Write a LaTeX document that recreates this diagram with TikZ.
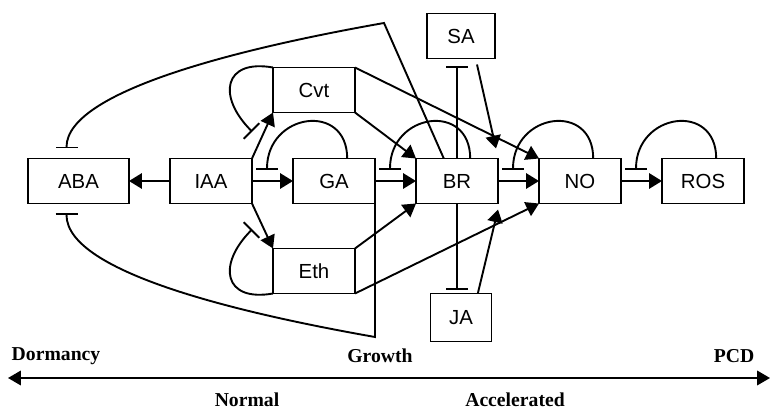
\documentclass[tikz,border=0pt]{standalone}
\usepackage{fontspec}
\setmainfont{Liberation Serif}
\newfontfamily\hormfont{Liberation Sans}
\usetikzlibrary{arrows.meta,positioning,calc}
\tikzset{
    hormone/.style = {
        rectangle, draw, inner sep=0pt, outer sep=0pt,
        minimum width=2.05cm, minimum height=1.125cm,
        font=\hormfont\fontsize{14.5}{17}\selectfont, line width=1.35pt
    },
    promote/.style = {draw, line width=1.35pt, -{Triangle[length=3.2mm,width=3.8mm]}},
    inhibit/.style = {draw, line width=1.35pt, -{Bar[width=5.5mm]}},
    stage/.style   = {inner sep=1pt, font=\bfseries\fontsize{14}{17}\selectfont}
}

\begin{document}
\begin{tikzpicture}
  \useasboundingbox (0,0) rectangle (19.325,10.275);

  % main chain
  \node [hormone, minimum width=2.525cm] (aba) at (1.9625,5.75) {ABA};
  \node [hormone, right=1.025cm of aba] (iaa) {IAA};
  \node [hormone, right=1.025cm of iaa] (ga)  {GA};
  \node [hormone, right=1.025cm of ga]  (br)  {BR};
  \node [hormone, right=1.025cm of br]  (no)  {NO};
  \node [hormone, right=1.025cm of no]  (ros) {ROS};

  % side branches
  \node [hormone, above right=1.15cm and 0.525cm of iaa.north east] (cvt) {Cvt};
  \node [hormone, below right=1.125cm and 0.525cm of iaa.south east] (eth) {Eth};
  \node [hormone, minimum width=1.7cm, above=2.5cm of br, xshift=0.1cm] (sa) {SA};
  \node [hormone, minimum width=1.525cm, minimum height=1.2cm,
         below=2.25cm of br, xshift=0.1cm] (ja) {JA};

  % loose ends
  \coordinate (gaFb)  at ($(ga.west)+(-0.65,0.28)$);
  \coordinate (brFb)  at ($(br.west)+(-0.65,0.28)$);
  \coordinate (noFb)  at ($(no.west)+(-0.65,0.28)$);
  \coordinate (rosFb) at ($(ros.west)+(-0.65,0.28)$);
  \coordinate (cvtFb) at ($(cvt.south west)+(-0.52,-0.48)$);
  \coordinate (ethFb) at ($(eth.north west)+(-0.52,0.48)$);
  \coordinate (abaUp) at ($(aba.north)+(-0.3,0.25)$);
  \coordinate (abaDn) at ($(aba.south)+(-0.3,-0.25)$);
  \coordinate (topBend) at (9.6,9.7);
  \coordinate (botBend) at (ga.south east |- 0,1.85);
  \coordinate (brnoUp) at ($(br.north east)+(-0.05,0.25)$);
  \coordinate (brnoDn) at ($(br.south east)+(0,-0.15)$);

  % activation
  \path [promote] (iaa) -- (aba);
  \path [promote] (iaa) -- (ga);
  \path [promote] (ga) -- (br);
  \path [promote] (br) -- (no);
  \path [promote] (no) -- (ros);
  \path [promote] (iaa.north east) -- (cvt.south west);
  \path [promote] (iaa.south east) -- (eth.north west);
  \path [promote] (cvt.south east) -- (br.north west);
  \path [promote] (cvt.north east) -- (no.north west);
  \path [promote] (eth.north east) -- (br.south west);
  \path [promote] (eth.south east) -- (no.south west);
  \path [promote] ($(sa.south)+(0.4,-0.15)$) -- (brnoUp);
  \path [promote] ([xshift=0.42cm]ja.north) -- (brnoDn);

  % repression
  \path [inhibit, shorten >=0.18cm] (br.north) -- (br.north |- sa.south);
  \path [inhibit, shorten >=0.1cm] (br.south) -- (br.south |- ja.north);
  \path [inhibit] ([xshift=-0.33cm]br.north) -- (topBend)
    .. controls +(190:3.25) and +(90:1.5) .. (abaUp);
  \path [inhibit] (ga.south east) -- (botBend)
    .. controls +(170:3.25) and +(-90:1.5) .. (abaDn);

  % feedback loops
  \path [inhibit] ([xshift=0.33cm]ga.north) to[out=90,in=90,looseness=1.8] (gaFb);
  \path [inhibit] ([xshift=0.33cm]br.north) to[out=90,in=90,looseness=1.8] (brFb);
  \path [inhibit] ([xshift=0.33cm]no.north) to[out=90,in=90,looseness=1.8] (noFb);
  \path [inhibit] ([xshift=0.33cm]ros.north) to[out=90,in=90,looseness=1.8] (rosFb);
  \path [inhibit] (cvt.north west) to[out=170,in=135,looseness=1.9] (cvtFb);
  \path [inhibit] (eth.south west) to[out=190,in=-135,looseness=1.9] (ethFb);

  % developmental axis
  \coordinate (axL) at (0.2,0.825);
  \coordinate (axR) at (19.25,0.825);
  \draw [line width=1.35pt, {Triangle[length=3.2mm,width=3.6mm]}-{Triangle[length=3.2mm,width=3.6mm]}]
    (axL) -- (axR);
  \node [stage] (dorm)   at (1.4,1.375)    {Dormancy};
  \node [stage] (growth) at (9.5,1.375)    {Growth};
  \node [stage] (pcd)    at (18.35,1.375)  {PCD};
  \node [stage] (normal) at (6.175,0.28)   {Normal};
  \node [stage] (accel)  at (12.875,0.28)  {Accelerated};
\end{tikzpicture}
\end{document}
